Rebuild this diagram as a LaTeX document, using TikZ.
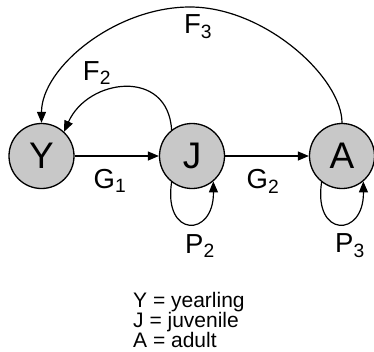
\documentclass[tikz,border=0pt]{standalone}
\usepackage{fontspec}
\setmainfont{Liberation Sans}
\usetikzlibrary{arrows.meta}
\definecolor{stagefill}{RGB}{200,200,200}
\begin{document}
\begin{tikzpicture}[x=1pt,y=-1pt,
  stage/.style={circle,draw=black,line width=1.3pt,fill=stagefill,minimum size=65pt,inner sep=0pt,font=\fontsize{37}{40}\selectfont},
  flow/.style={line width=1.2pt,-{Triangle[length=11pt,width=9pt]}},
  rate/.style={font=\fontsize{27.5}{30}\selectfont,inner sep=0pt},
  legend/.style={font=\fontsize{21}{23}\selectfont,inner sep=0pt,anchor=base west}]
\useasboundingbox (0,0) rectangle (374,351);
\node[stage] (Y) at (41.5,156) {Y};
\node[stage] (J) at (192,156) {J};
\node[stage] (A) at (342,156) {A};
\draw[flow] (Y) -- (J);
\draw[flow] (J) -- (A);
\coordinate (top) at (190,7);
\draw[line width=1.2pt] (A.north) .. controls +(0,-45) and +(75,0) .. (top);
\draw[flow] (top) .. controls +(-75,0) and +(0,-55) .. (Y.north);
\draw[flow] (J.128) .. controls (168,68) and (88,78) .. (Y.47);
\draw[flow] (J.232) .. controls (163,238) and (214,238) .. (J.310);
\draw[flow] (A.232) .. controls (313,238) and (364,238) .. (A.310);
\node[rate] (lF3) at (198,27) {F\textsubscript{3}};
\node[rate] (lF2) at (97,73) {F\textsubscript{2}};
\node[rate] (lG1) at (110,181) {G\textsubscript{1}};
\node[rate] (lG2) at (263,181) {G\textsubscript{2}};
\node[rate] (lP2) at (200,246) {P\textsubscript{2}};
\node[rate] (lP3) at (350,246) {P\textsubscript{3}};
\node[legend] (k1) at (133,307) {Y = yearling};
\node[legend] (k2) at (133,327) {J = juvenile};
\node[legend] (k3) at (133,347) {A = adult};
\end{tikzpicture}
\end{document}
